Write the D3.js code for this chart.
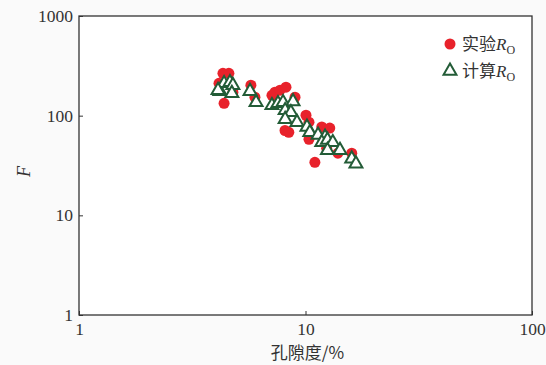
<!DOCTYPE html>
<html>
<head>
<meta charset="utf-8">
<script src="https://cdn.jsdelivr.net/npm/d3@7/dist/d3.min.js"></script>
<style>
  html, body { margin: 0; padding: 0; background: #fafafa; }
  svg { display: block; }
  .tick text { font-family: "Liberation Serif", "DejaVu Serif", serif; font-size: 17.5px; fill: #333; }
</style>
</head>
<body>
<svg id="chart" width="546" height="365"></svg>
<script>
// Measured formation factor (porosity %, F)
const expPorosity = [4.32, 4.59, 4.15, 4.37, 4.78, 5.74, 5.98, 7.11, 7.33, 7.72, 8.2, 8.99,
  8.12, 8.44, 10.05, 10.36, 10.36, 11.0, 11.8, 12.8, 12.4, 13.9, 16.0];
const expF = [266, 266, 211, 133, 172, 202, 153, 160, 172, 180, 193, 153,
  71, 68, 101, 86, 58, 34, 77, 75, 47, 42, 42];

// Calculated formation factor (porosity %, F)
const calcPorosity = [4.19, 4.37, 4.64, 4.78, 4.11, 4.73, 5.69, 6.05, 7.11, 7.56, 7.96, 8.81,
  8.13, 8.62, 8.13, 9.17, 10.15, 10.45, 11.36, 12.2, 11.8, 12.5, 13.2, 14.2, 12.5, 16.0, 16.7];
const calcF = [176, 211, 216, 202, 180, 168, 176, 136, 127, 133, 136, 139,
  113, 108, 92, 86, 77, 68, 64, 61, 54, 57, 54, 45, 45, 37, 33];

const xTicks = [1, 10, 100];
const yTicks = [1, 10, 100, 1000];

const svg = d3.select("#chart");
const m = { left: 79, right: 532, top: 16, bottom: 315 };

const x = d3.scaleLog().domain([1, 100]).range([m.left, m.right]);
const y = d3.scaleLog().domain([1, 1000]).range([m.bottom, m.top]);

// plot frame
svg.append("rect")
  .attr("x", m.left).attr("y", m.top)
  .attr("width", m.right - m.left).attr("height", m.bottom - m.top)
  .attr("fill", "#fff").attr("stroke", "#333").attr("stroke-width", 1.3);

// axes with short inward ticks
const xAxis = svg.append("g").attr("transform", `translate(0,${m.bottom})`)
  .call(d3.axisBottom(x).tickValues(xTicks).tickFormat(d3.format("d")).tickSize(-4).tickPadding(6));
const yAxis = svg.append("g").attr("transform", `translate(${m.left},0)`)
  .call(d3.axisLeft(y).tickValues(yTicks).tickFormat(d3.format("d")).tickSize(-4).tickPadding(6));
[xAxis, yAxis].forEach(g => {
  g.select(".domain").remove();
  g.selectAll(".tick line").attr("stroke", "#333").attr("stroke-width", 1);
});
xAxis.selectAll(".tick text").attr("dy", "0.8em");

// axis titles
svg.append("text")
  .attr("x", x(10) + 2).attr("y", 359)
  .attr("text-anchor", "middle")
  .style("font-family", "'Noto Sans CJK SC', sans-serif").style("font-size", "17px").attr("fill", "#333")
  .text("孔隙度/%");
svg.append("text")
  .attr("transform", `translate(30,${(m.top + m.bottom) / 2 + 6}) rotate(-90)`)
  .attr("text-anchor", "middle")
  .style("font-family", "'Liberation Serif', serif").style("font-size", "18px")
  .style("font-style", "italic").attr("fill", "#333")
  .text("F");

// measured points
const expData = expPorosity.map((p, i) => ({ p, f: expF[i] }));
svg.append("g").selectAll("circle").data(expData).join("circle")
  .attr("cx", d => x(d.p)).attr("cy", d => y(d.f)).attr("r", 5.5)
  .attr("fill", "#e8222b");

// calculated points
const calcData = calcPorosity.map((p, i) => ({ p, f: calcF[i] }));
const tri = d3.symbol().type(d3.symbolTriangle).size(72);
svg.append("g").selectAll("path").data(calcData).join("path")
  .attr("transform", d => `translate(${x(d.p)},${y(d.f)})`)
  .attr("d", tri)
  .attr("fill", "#fff").attr("stroke", "#235c37").attr("stroke-width", 2);

// legend
const lg = svg.append("g");
lg.append("circle").attr("cx", 450).attr("cy", 44).attr("r", 5.5).attr("fill", "#e8222b");
lg.append("path").attr("transform", "translate(450,71)").attr("d", tri)
  .attr("fill", "#fff").attr("stroke", "#235c37").attr("stroke-width", 2);
const labels = ["实验", "计算"];
labels.forEach((t, i) => {
  const txt = lg.append("text").attr("x", 462).attr("y", 50 + i * 27)
    .attr("fill", "#333").style("font-size", "17px");
  txt.append("tspan").style("font-family", "'Noto Sans CJK SC', sans-serif").text(t);
  txt.append("tspan").style("font-family", "'Liberation Serif', serif").style("font-style", "italic").text("R");
  txt.append("tspan").style("font-family", "'Liberation Serif', serif").style("font-size", "12px")
    .attr("dy", 4).text("O");
});
</script>
</body>
</html>
